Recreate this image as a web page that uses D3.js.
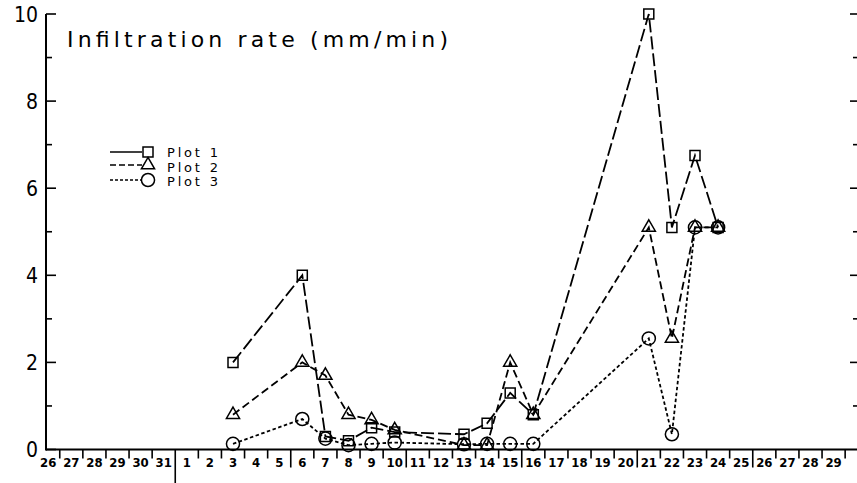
<!DOCTYPE html>
<html>
<head>
<meta charset="utf-8">
<script src="https://cdn.jsdelivr.net/npm/d3@7"></script>
<style>
  body { margin: 0; background: #fff; }
  svg { display: block; }
</style>
</head>
<body>
<script>
// axis labels: end of one month, then the next month
const xLabels = ['26', '27', '28', '29', '30', '31',
  '1', '2', '3', '4', '5', '6', '7', '8', '9', '10', '11', '12', '13', '14', '15',
  '16', '17', '18', '19', '20', '21', '22', '23', '24', '25', '26', '27', '28', '29'];
const monthStart = 6; // index of day "1"

const days = [3, 6, 7, 8, 9, 10, 13, 14, 15, 16, 21, 22, 23, 24];
const plot1 = [2.0, 4.0, 0.3, 0.2, 0.5, 0.4, 0.35, 0.6, 1.3, 0.8, 10.0, 5.1, 6.75, 5.1];
const plot2 = [0.8, 2.0, 1.7, 0.8, 0.68, 0.45, 0.1, 0.1, 2.0, 0.8, 5.1, 2.55, 5.1, 5.1];
const plot3 = [0.13, 0.7, 0.25, 0.1, 0.13, 0.16, 0.12, 0.13, 0.13, 0.13, 2.55, 0.35, 5.1, 5.1];

const yMajor = [0, 2, 4, 6, 8, 10];
const yMinor = [1, 3, 5, 7, 9];

const width = 857;
const height = 483;

const svg = d3.select('body')
  .append('svg')
  .attr('width', width)
  .attr('height', height);

const xScale = d3.scaleLinear()
  .domain([0, xLabels.length - 1])
  .range([48.2, 833.6]);

const yScale = d3.scaleLinear()
  .domain([0, 10])
  .range([449.5, 14]);

const x0 = 46;
const y0 = yScale(0);

// y axis (left), ticks pointing inwards
svg.append('line')
  .attr('x1', x0).attr('x2', x0)
  .attr('y1', yScale(10)).attr('y2', y0 + 1)
  .attr('stroke', '#000').attr('stroke-width', 2);

svg.selectAll('.ymaj')
  .data(yMajor)
  .enter()
  .append('line')
  .attr('x1', x0).attr('x2', x0 + 10)
  .attr('y1', d => yScale(d)).attr('y2', d => yScale(d))
  .attr('stroke', '#000').attr('stroke-width', 1.6);

svg.selectAll('.ymin')
  .data(yMinor)
  .enter()
  .append('line')
  .attr('x1', x0).attr('x2', x0 + 6)
  .attr('y1', d => yScale(d)).attr('y2', d => yScale(d))
  .attr('stroke', '#000').attr('stroke-width', 1.6);

svg.selectAll('.ylab')
  .data(yMajor)
  .enter()
  .append('text')
  .attr('x', 38)
  .attr('y', d => yScale(d))
  .attr('dy', '0.36em')
  .attr('text-anchor', 'end')
  .style('font-family', '"DejaVu Sans Condensed", "DejaVu Sans", sans-serif')
  .style('font-size', '21px')
  .text(d => d);

// right side ticks
svg.selectAll('.rmaj')
  .data(yMajor.filter(d => d > 0))
  .enter()
  .append('line')
  .attr('x1', 850).attr('x2', 857)
  .attr('y1', d => yScale(d)).attr('y2', d => yScale(d))
  .attr('stroke', '#000').attr('stroke-width', 1.6);

svg.selectAll('.rmin')
  .data(yMinor)
  .enter()
  .append('line')
  .attr('x1', 853).attr('x2', 857)
  .attr('y1', d => yScale(d)).attr('y2', d => yScale(d))
  .attr('stroke', '#000').attr('stroke-width', 1.6);

// x axis baseline
svg.append('line')
  .attr('x1', x0).attr('x2', width)
  .attr('y1', y0).attr('y2', y0)
  .attr('stroke', '#000').attr('stroke-width', 2);

// ticks sit between the day labels
const tickPos = xLabels.map((d, i) => i + 0.5);
function tickLen(t) {
  const i = Math.floor(t);
  if (i === monthStart - 1) return height - y0; // month separator
  if (i >= monthStart && (+xLabels[i]) % 5 === 0) return 18;
  return 9;
}

svg.selectAll('.xtick')
  .data(tickPos)
  .enter()
  .append('line')
  .attr('x1', d => xScale(d)).attr('x2', d => xScale(d))
  .attr('y1', y0).attr('y2', d => y0 + tickLen(d))
  .attr('stroke', '#000').attr('stroke-width', 1.6);

svg.selectAll('.xlab')
  .data(xLabels)
  .enter()
  .append('text')
  .attr('x', (d, i) => xScale(i))
  .attr('y', 467)
  .attr('text-anchor', 'middle')
  .style('font-family', '"DejaVu Sans Condensed", "DejaVu Sans", sans-serif')
  .style('font-size', '13px')
  .style('font-weight', 'bold')
  .text(d => d);

// title
svg.append('text')
  .attr('x', 67)
  .attr('y', 47)
  .attr('textLength', 381)
  .style('font-family', '"DejaVu Sans", sans-serif')
  .style('font-size', '22px')
  .text('Infiltration rate (mm/min)');

// series
const series = [
  { name: 'Plot 1', values: plot1, symbol: d3.symbolSquare, size: 100, dash: '13,4', legendDash: null },
  { name: 'Plot 2', values: plot2, symbol: d3.symbolTriangle, size: 75, dash: '8,4', legendDash: '6,3' },
  { name: 'Plot 3', values: plot3, symbol: d3.symbolCircle, size: 135, dash: '3.5,2.5', legendDash: '3,2' }
];

const line = d3.line()
  .x(d => xScale(monthStart - 1 + d.day))
  .y(d => yScale(d.v));

series.forEach(s => {
  const pts = days.map((day, i) => ({ day: day, v: s.values[i] }));

  svg.append('path')
    .datum(pts)
    .attr('d', line)
    .attr('fill', 'none')
    .attr('stroke', '#000')
    .attr('stroke-width', 1.8)
    .attr('stroke-dasharray', s.dash);

  svg.selectAll(null)
    .data(pts)
    .enter()
    .append('path')
    .attr('d', d3.symbol().type(s.symbol).size(s.size))
    .attr('transform', d => `translate(${xScale(monthStart - 1 + d.day)},${yScale(d.v)})`)
    .attr('fill', 'none')
    .attr('stroke', '#000')
    .attr('stroke-width', 1.5);
});

// legend
const legendY = [152, 165, 180];
const legendText = [157, 171.5, 186];
series.forEach((s, i) => {
  svg.append('line')
    .attr('x1', 110).attr('x2', 142)
    .attr('y1', legendY[i]).attr('y2', legendY[i])
    .attr('stroke', '#000').attr('stroke-width', 1.5)
    .attr('stroke-dasharray', s.legendDash);
  svg.append('path')
    .attr('d', d3.symbol().type(s.symbol).size(s.size))
    .attr('transform', `translate(148,${legendY[i]})`)
    .attr('fill', 'none')
    .attr('stroke', '#000')
    .attr('stroke-width', 1.5);
  svg.append('text')
    .attr('x', 167)
    .attr('y', legendText[i])
    .attr('textLength', 51)
    .style('font-family', '"DejaVu Sans", sans-serif')
    .style('font-size', '13px')
    .text(s.name);
});
</script>
</body>
</html>
